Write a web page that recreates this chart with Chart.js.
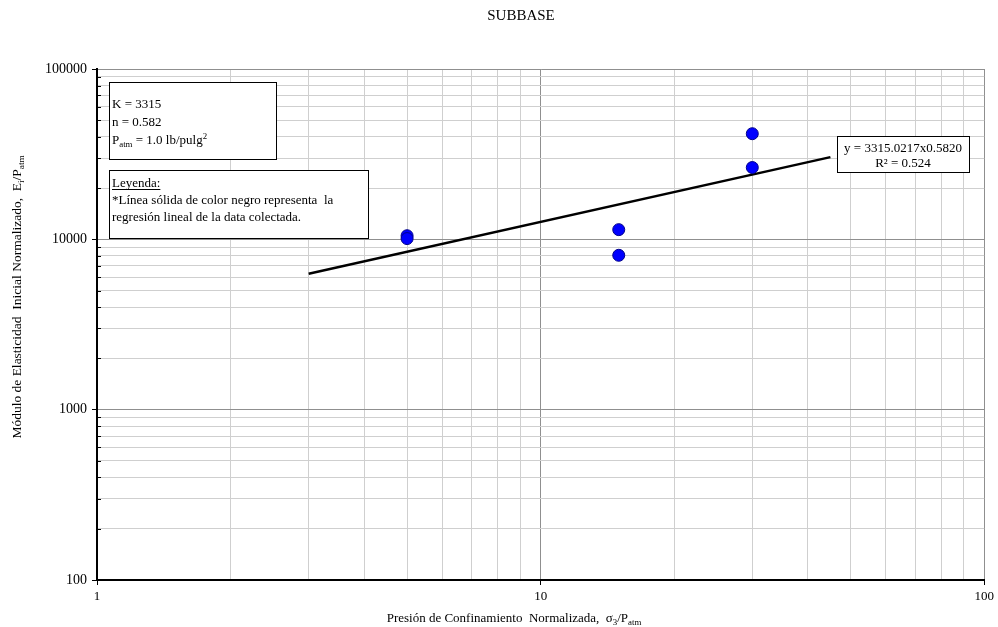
<!DOCTYPE html>
<html>
<head>
<meta charset="utf-8">
<script src="https://cdn.jsdelivr.net/npm/chart.js@4.4.0/dist/chart.umd.min.js"></script>
<style>
  body { margin: 0; background: #fff; }
  #caja { width: 998px; height: 627px; }
</style>
</head>
<body>
<div id="caja"><canvas id="subbase"></canvas></div>
<script>
// ensayos: presion de confinamiento normalizada y modulo inicial normalizado
const presion = [5, 5, 15, 15, 30, 30];
const modulo = [10500, 10100, 11400, 8060, 41700, 26400];

// recta de regresion (potencial) y = 3315.0217 x^0.582, extremos
const tendenciaX = [3, 45];
const tendenciaY = [6283, 30386];

// marcas principales de los ejes logaritmicos
const xMayores = [1, 10, 100];
const yMayores = [100, 1000, 10000, 100000];

const fuente = '"Liberation Serif", "Times New Roman", serif';

function marcasLog(mayores) {
  let lista = [];
  for (let i = 0; i < mayores.length - 1; i++) {
    for (let k = 1; k < 10; k++) lista.push({ value: mayores[i] * k, major: k === 1 });
  }
  lista.push({ value: mayores[mayores.length - 1], major: true });
  return lista;
}

function esMayor(v) {
  const l = Math.log10(v);
  return Math.abs(l - Math.round(l)) < 1e-9;
}

// texto con subindices / superindices
function anchoRico(ctx, partes, size) {
  let w = 0;
  partes.forEach((p) => {
    const s = p.sub || p.sup ? size * 0.68 : size;
    ctx.font = s + "px " + fuente;
    w += ctx.measureText(p.t).width;
  });
  return w;
}

function textoRico(ctx, partes, x, y, size, align) {
  const w = anchoRico(ctx, partes, size);
  let cx = align === "center" ? x - w / 2 : x;
  ctx.textAlign = "left";
  ctx.textBaseline = "alphabetic";
  partes.forEach((p) => {
    const s = p.sub || p.sup ? size * 0.68 : size;
    ctx.font = s + "px " + fuente;
    let dy = 0;
    if (p.sub) dy = size * 0.22;
    if (p.sup) dy = -size * 0.38;
    ctx.fillText(p.t, cx, y + dy);
    cx += ctx.measureText(p.t).width;
  });
}

function recuadro(ctx, x, y, w, h) {
  ctx.save();
  ctx.fillStyle = "#fff";
  ctx.fillRect(x, y, w, h);
  ctx.strokeStyle = "#000";
  ctx.lineWidth = 1;
  ctx.strokeRect(x + 0.5, y + 0.5, w, h);
  ctx.restore();
}

const textos = {
  id: "textos",
  afterDraw(chart) {
    const ctx = chart.ctx;
    const area = chart.chartArea;
    const sy = chart.scales.y;
    ctx.save();
    ctx.fillStyle = "#000";

    // marcas menores del eje y hacia adentro
    ctx.strokeStyle = "#000";
    ctx.lineWidth = 1;
    sy.ticks.forEach((t) => {
      if (esMayor(t.value)) return;
      const py = Math.round(sy.getPixelForValue(t.value)) + 0.5;
      ctx.beginPath();
      ctx.moveTo(area.left, py);
      ctx.lineTo(area.left + 4, py);
      ctx.stroke();
    });

    // titulo
    ctx.font = "15px " + fuente;
    ctx.textAlign = "center";
    ctx.textBaseline = "middle";
    ctx.fillText("SUBBASE", 521, 16);

    // titulo eje x
    textoRico(ctx, [
      { t: "Presión de Confinamiento  Normalizada,  σ" },
      { t: "3", sub: true },
      { t: "/P" },
      { t: "atm", sub: true },
    ], 514, 622, 13, "center");

    // titulo eje y
    ctx.save();
    ctx.translate(21, 297);
    ctx.rotate(-Math.PI / 2);
    textoRico(ctx, [
      { t: "Módulo de Elasticidad  Inicial Normalizado,  E" },
      { t: "i", sub: true },
      { t: "/P" },
      { t: "atm", sub: true },
    ], 0, 0, 13.5, "center");
    ctx.restore();

    // constantes del modelo
    recuadro(ctx, 109, 82, 167, 77);
    textoRico(ctx, [{ t: "K = 3315" }], 112, 108, 13, "left");
    textoRico(ctx, [{ t: "n = 0.582" }], 112, 126, 13, "left");
    textoRico(ctx, [
      { t: "P" }, { t: "atm", sub: true }, { t: " = 1.0 lb/pulg" }, { t: "2", sup: true },
    ], 112, 144, 13, "left");

    // leyenda
    recuadro(ctx, 109, 170, 259, 68);
    textoRico(ctx, [{ t: "Leyenda:" }], 112, 187, 13, "left");
    ctx.font = "13px " + fuente;
    const wl = ctx.measureText("Leyenda:").width;
    ctx.fillRect(112, 189, wl, 1);
    textoRico(ctx, [{ t: "*Línea sólida de color negro representa  la" }], 112, 204, 13, "left");
    textoRico(ctx, [{ t: "regresión lineal de la data colectada." }], 112, 221, 13, "left");

    // ecuacion de la regresion
    recuadro(ctx, 837, 136, 132, 36);
    textoRico(ctx, [{ t: "y = 3315.0217x0.5820" }], 903, 152, 13, "center");
    textoRico(ctx, [{ t: "R² = 0.524" }], 903, 167, 13, "center");

    ctx.restore();
  },
};

function colorGrilla(ctx) {
  if (!ctx.tick) return "#cfcfcf";
  return esMayor(ctx.tick.value) ? "#8f8f8f" : "#cfcfcf";
}

function colorMarca(ctx) {
  if (!ctx.tick) return "transparent";
  return esMayor(ctx.tick.value) ? "#000" : "rgba(0,0,0,0)";
}

new Chart(document.getElementById("subbase"), {
  type: "scatter",
  data: {
    datasets: [
      {
        label: "Regresión",
        type: "line",
        data: tendenciaX.map((x, i) => ({ x: x, y: tendenciaY[i] })),
        borderColor: "#000",
        borderWidth: 2.5,
        pointRadius: 0,
        fill: false,
        order: 2,
      },
      {
        label: "Ensayos",
        data: presion.map((x, i) => ({ x: x, y: modulo[i] })),
        backgroundColor: "#0000ff",
        borderColor: "#00008b",
        borderWidth: 1,
        pointRadius: 6,
        order: 1,
      },
    ],
  },
  options: {
    responsive: true,
    maintainAspectRatio: false,
    animation: false,
    layout: { padding: { top: 69, right: 13, left: 0, bottom: 0 } },
    plugins: {
      legend: { display: false },
      title: { display: false },
      tooltip: { enabled: false },
    },
    scales: {
      x: {
        type: "logarithmic",
        min: 1,
        max: 100,
        afterBuildTicks: (scale) => { scale.ticks = marcasLog(xMayores); },
        afterFit: (scale) => { scale.height = 47; },
        ticks: {
          autoSkip: false,
          maxRotation: 0,
          padding: 4,
          color: "#000",
          font: { family: fuente, size: 13 },
          callback: (v) => (xMayores.includes(v) ? String(v) : ""),
        },
        grid: { color: colorGrilla, tickColor: colorMarca, tickLength: 5, lineWidth: 1 },
        border: { color: "#000", width: 2 },
      },
      y: {
        type: "logarithmic",
        min: 100,
        max: 100000,
        afterBuildTicks: (scale) => { scale.ticks = marcasLog(yMayores); },
        afterFit: (scale) => { scale.width = 97; },
        ticks: {
          autoSkip: false,
          padding: 5,
          color: "#000",
          font: { family: fuente, size: 14 },
          callback: (v) => (yMayores.includes(v) ? String(v) : ""),
        },
        grid: { color: colorGrilla, tickColor: colorMarca, tickLength: 5, lineWidth: 1 },
        border: { color: "#000", width: 2 },
      },
    },
  },
  plugins: [textos],
});
</script>
</body>
</html>
